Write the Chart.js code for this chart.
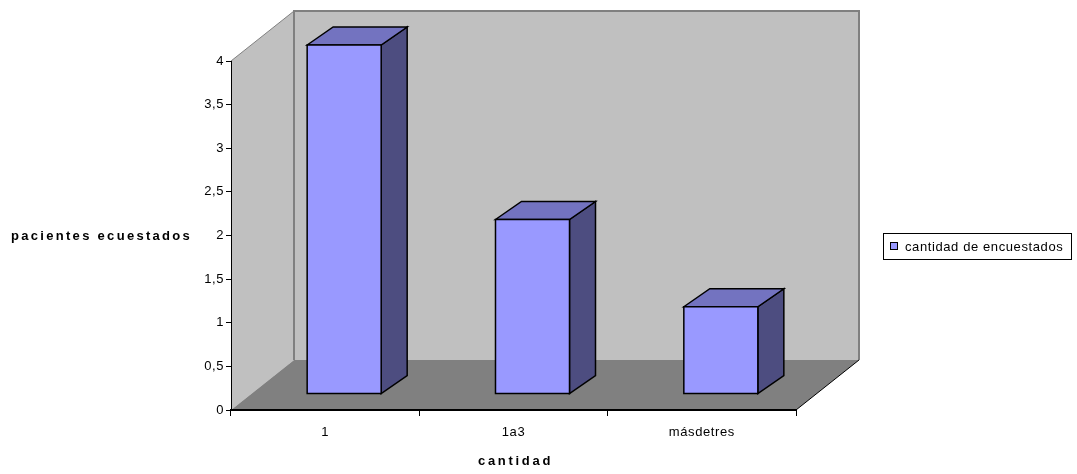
<!DOCTYPE html>
<html>
<head>
<meta charset="utf-8">
<script src="https://cdn.jsdelivr.net/npm/chart.js@4/dist/chart.umd.min.js"></script>
<style>
  html, body { margin: 0; padding: 0; background: #fff; }
  #wrap { width: 1077px; height: 474px; }
</style>
</head>
<body>
<div id="wrap"><canvas id="c" width="1077" height="474"></canvas></div>
<script>
// Categories and values
const categories = ['1', '1a3', 'másdetres'];
const encuestados = [4, 2, 1];
const seriesLabel = 'cantidad de encuestados';
const yTitle = 'pacientes ecuestados';
const xTitle = 'cantidad';
const yMin = 0, yMax = 4, yStep = 0.5;

// Oblique projection used for the 3D walls and boxes
const WALL_DEPTH = { x: 63, y: -50 };
const BAR_FRONT = { x: 19, y: -16 };
const BAR_DEPTH = { x: 26, y: -18 };

const COLORS = {
  wall: '#C0C0C0',
  floor: '#808080',
  wallEdge: '#808080',
  front: '#9999FF',
  top: '#7373C0',
  side: '#4D4D80',
  outline: '#000000'
};

const FONT = '"Liberation Sans", Arial, sans-serif';

function poly(ctx, pts, fill, stroke, lw) {
  ctx.beginPath();
  ctx.moveTo(pts[0][0], pts[0][1]);
  for (let i = 1; i < pts.length; i++) ctx.lineTo(pts[i][0], pts[i][1]);
  ctx.closePath();
  if (fill) { ctx.fillStyle = fill; ctx.fill(); }
  if (stroke) { ctx.strokeStyle = stroke; ctx.lineWidth = lw || 1; ctx.stroke(); }
}

const threeD = {
  id: 'threeD',
  beforeDraw(chart) {
    const ctx = chart.ctx;
    ctx.letterSpacing = '0.6px';
    const { left, right, top, bottom } = chart.chartArea;
    const dx = WALL_DEPTH.x, dy = WALL_DEPTH.y;
    ctx.save();
    // side wall
    poly(ctx, [[left, top], [left + dx, top + dy], [left + dx, bottom + dy], [left, bottom]], COLORS.wall);
    // back wall
    poly(ctx, [[left + dx, top + dy], [right + dx, top + dy], [right + dx, bottom + dy], [left + dx, bottom + dy]], COLORS.wall);
    // floor
    poly(ctx, [[left, bottom], [right, bottom], [right + dx, bottom + dy], [left + dx, bottom + dy]], COLORS.floor);
    // wall edges
    ctx.lineCap = 'butt';
    ctx.strokeStyle = COLORS.wallEdge;
    ctx.lineWidth = 1;
    ctx.beginPath();
    ctx.moveTo(left, top); ctx.lineTo(left + dx, top + dy);
    ctx.stroke();
    ctx.lineWidth = 2;
    ctx.beginPath();
    ctx.moveTo(left + dx, bottom + dy);
    ctx.lineTo(left + dx, top + dy);
    ctx.lineTo(right + dx, top + dy);
    ctx.lineTo(right + dx, bottom + dy);
    ctx.stroke();
    // floor edge
    ctx.strokeStyle = '#000';
    ctx.lineWidth = 1;
    ctx.beginPath();
    ctx.moveTo(right, bottom); ctx.lineTo(right + dx, bottom + dy);
    ctx.stroke();
    ctx.restore();
  },
  beforeDatasetsDraw(chart) {
    const ctx = chart.ctx;
    ctx.save();
    ctx.lineJoin = 'miter';
    chart.data.datasets.forEach((ds, di) => {
      const meta = chart.getDatasetMeta(di);
      meta.data.forEach((el) => {
        const p = el.getProps(['x', 'y', 'base', 'width'], true);
        const x0 = p.x - p.width / 2 + BAR_FRONT.x;
        const x1 = p.x + p.width / 2 + BAR_FRONT.x;
        const yT = p.y + BAR_FRONT.y;
        const yB = p.base + BAR_FRONT.y;
        const bx = BAR_DEPTH.x, by = BAR_DEPTH.y;
        poly(ctx, [[x1, yT], [x1 + bx, yT + by], [x1 + bx, yB + by], [x1, yB]], COLORS.side, COLORS.outline, 1.5);
        poly(ctx, [[x0, yT], [x0 + bx, yT + by], [x1 + bx, yT + by], [x1, yT]], COLORS.top, COLORS.outline, 1.5);
        poly(ctx, [[x0, yT], [x1, yT], [x1, yB], [x0, yB]], COLORS.front, COLORS.outline, 1.5);
      });
    });
    ctx.restore();
    return false;
  },
  afterDraw(chart) {
    const ctx = chart.ctx;
    const { left, right } = chart.chartArea;
    ctx.save();
    ctx.fillStyle = '#000';
    ctx.textBaseline = 'middle';
    // axis titles
    ctx.font = 'bold 13px ' + FONT;
    ctx.letterSpacing = '2.3px';
    ctx.textAlign = 'left';
    ctx.fillText(yTitle, 11, 236);
    ctx.letterSpacing = '2.7px';
    ctx.textAlign = 'center';
    ctx.fillText(xTitle, (left + right) / 2 + 2, 461);
    // legend
    const lx = 883, ly = 233, lw = 188, lh = 26;
    ctx.letterSpacing = '0px';
    ctx.fillStyle = '#fff';
    ctx.fillRect(lx, ly, lw, lh);
    ctx.strokeStyle = '#000';
    ctx.lineWidth = 1;
    ctx.strokeRect(lx + 0.5, ly + 0.5, lw, lh);
    const ds = chart.data.datasets[0];
    ctx.fillStyle = ds.backgroundColor;
    ctx.fillRect(890.5, 242.5, 7, 7);
    ctx.strokeRect(890.5, 242.5, 7, 7);
    ctx.fillStyle = '#000';
    ctx.font = '13px ' + FONT;
    ctx.letterSpacing = '0.6px';
    ctx.textAlign = 'left';
    ctx.fillText(ds.label, 905, 247);
    ctx.restore();
  }
};

new Chart(document.getElementById('c'), {
  type: 'bar',
  data: {
    labels: categories,
    datasets: [{
      label: seriesLabel,
      data: encuestados,
      backgroundColor: COLORS.front,
      borderColor: COLORS.outline,
      categoryPercentage: 1,
      barPercentage: 0.393
    }]
  },
  options: {
    responsive: false,
    animation: false,
    devicePixelRatio: 1,
    layout: { padding: { top: 61, right: 281, left: 0, bottom: 0 } },
    plugins: {
      legend: { display: false },
      tooltip: { enabled: false }
    },
    scales: {
      x: {
        grid: { display: true, drawOnChartArea: false, drawTicks: true, tickLength: 6, color: '#000', offset: true },
        border: { display: true, color: '#000', width: 2 },
        ticks: { color: '#000', font: { family: FONT, size: 13 }, padding: 9, maxRotation: 0 },
        afterFit(scale) { scale.height = 64; }
      },
      y: {
        min: yMin,
        max: yMax,
        grid: { display: true, drawOnChartArea: false, drawTicks: true, tickLength: 5, color: '#000' },
        border: { display: true, color: '#000', width: 1 },
        ticks: {
          stepSize: yStep,
          color: '#000',
          padding: 2,
          font: { family: FONT, size: 13 },
          callback: (v) => String(v).replace('.', ',')
        },
        afterFit(scale) { scale.width = 231; }
      }
    }
  },
  plugins: [threeD]
});
</script>
</body>
</html>
